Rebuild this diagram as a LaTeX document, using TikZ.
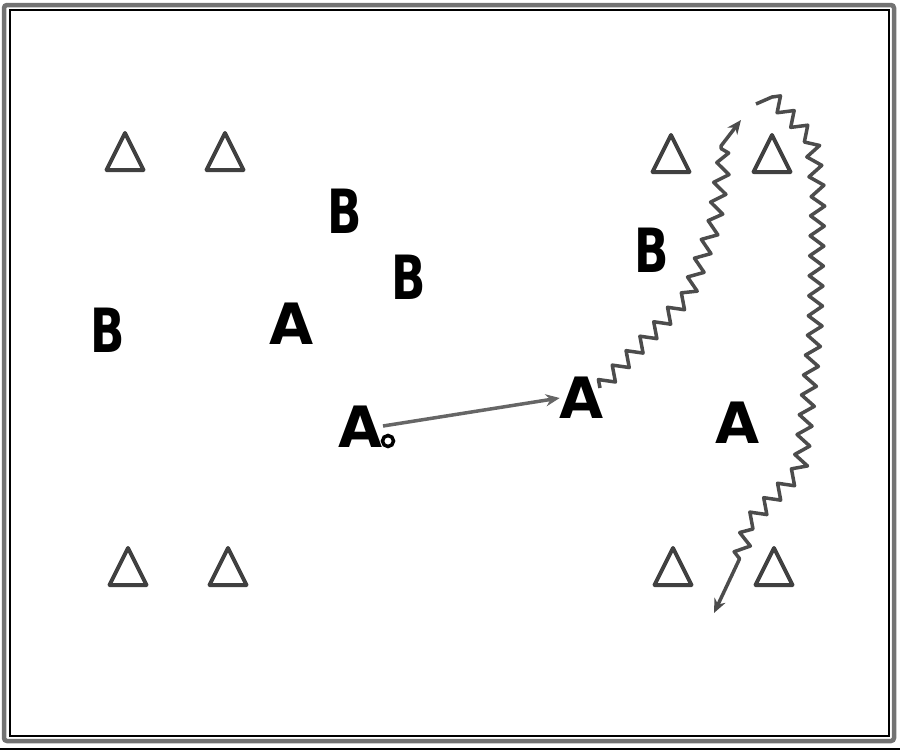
\documentclass[tikz,border=0pt]{standalone}
\usepackage{fontspec}
\newfontfamily\lf{DejaVu Sans}
\usetikzlibrary{decorations.pathmorphing,arrows.meta}
\tikzset{
  lettera/.style={font=\lf\bfseries\fontsize{57}{60}\selectfont, inner sep=0pt},
  letterb/.style={font=\lf\bfseries\fontsize{61}{64}\selectfont, inner sep=0pt, xscale=0.74},
  conestyle/.style={draw=black!75, line width=4pt, line join=round},
  cone/.pic={\draw[conestyle] (0,-19) -- (18.5,18) -- (-18.5,18) -- cycle;},
  pass/.style={draw=black!60, line width=3.5pt, -{Stealth[length=14pt,width=12pt]}},
  run/.style={draw=black!70, line width=3.5pt, line join=round, -{Stealth[length=14pt,width=12pt]}},
  zz/.style={decoration={zigzag, segment length=20pt, amplitude=7pt}},
  ballstyle/.style={circle, draw=black, line width=3.5pt, fill=white, minimum size=11pt, inner sep=0pt},
}
\begin{document}
\begin{tikzpicture}[x=1pt,y=-1pt]
\useasboundingbox (0,0) rectangle (900,750);
% frame
\draw[draw=black!55, line width=4.5pt, rounded corners=3pt] (4,5) rectangle (894,741);
\draw[black, line width=1.5pt] (10,10) rectangle (889,736);
\draw[black, line width=1.5pt] (0,749) -- (900,749);
% cones
\pic at (125,152) {cone};
\pic at (225,152) {cone};
\pic at (671,154) {cone};
\pic at (772,154) {cone};
\pic at (128,567) {cone};
\pic at (228,567) {cone};
\pic at (673,567) {cone};
\pic at (774,567) {cone};
% players
\node[letterb] (b1) at (345,211) {B};
\node[letterb] (b2) at (409,277) {B};
\node[letterb] (b3) at (652,250) {B};
\node[letterb] (b4) at (108,330) {B};
\node[lettera] (a1) at (292,324) {A};
\node[lettera] (a2) at (361,427) {A};
\node[lettera] (a3) at (582,398) {A};
\node[lettera] (a4) at (738,423) {A};
\node[ballstyle] (ball) at (388,441) {};
% pass
\coordinate (s1) at (383,426);
\draw[pass] (s1) -- (a3.west);
% dribble 1
\coordinate (d1) at (600,388);
\coordinate (d2) at (688,296);
\coordinate (d3) at (714,225);
\coordinate (d4) at (723,168);
\coordinate (d5) at (721,146);
\coordinate (t1) at (741,120);
\draw[run] decorate[zz]{(d1) -- (d2) -- (d3) -- (d4) -- (d5)} -- (t1);
% dribble 2
\coordinate (e0) at (756,104);
\coordinate (e1) at (772,97);
\coordinate (e2) at (812,140);
\coordinate (e3) at (818,195);
\coordinate (e4) at (815,330);
\coordinate (e5) at (808,400);
\coordinate (e6) at (800,470);
\coordinate (e7) at (750,522);
\coordinate (e8) at (739,560);
\coordinate (t2) at (714,613);
\draw[run] (e0) -- (e1) decorate[zz]{-- (e2) -- (e3) -- (e4) -- (e5) -- (e6) -- (e7) -- (e8)} -- (t2);
\end{tikzpicture}
\end{document}
